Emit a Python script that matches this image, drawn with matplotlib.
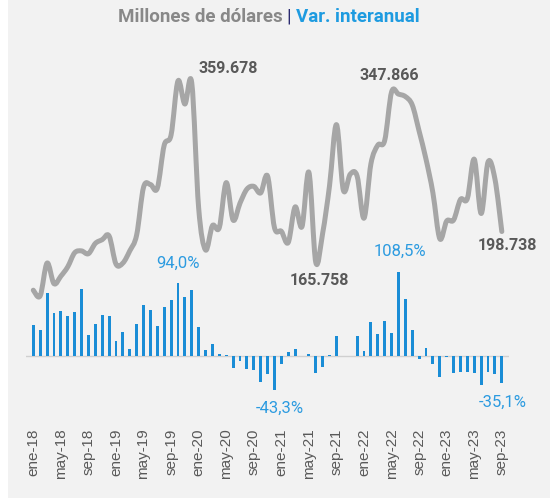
import matplotlib
matplotlib.use("Agg")
import matplotlib.pyplot as plt
from matplotlib.path import Path
from matplotlib.patches import PathPatch, Rectangle
import numpy as np

# Monthly series, ene-18 .. sep-23
millones_usd = [
    136, 130, 165, 143, 151, 161, 176, 178, 175, 186, 190, 194,
    164, 165, 178, 195, 246, 249, 245, 291, 302, 359.678, 335, 357.5,
    224, 179, 205, 203, 251, 211, 229, 244, 247, 240, 258, 203,
    199, 187, 225, 204, 262, 165.758, 197, 248, 313, 243, 260, 258,
    213, 271, 291, 296, 347.866, 345.6, 343, 334, 306, 276, 240, 191,
    210, 211, 233, 234, 276, 218, 273, 255, 198.738,
]
var_interanual = [
    39.5, 33.5, 80.7, 55.8, 58.4, 51.5, 56.2, 85.8, 27.5, 40.8, 53.2, 51.9,
    19.7, 31.3, 8.6, 41.2, 65.2, 59.6, 38.6, 62.6, 71.6, 94.0, 75.9, 84.5,
    37.3, 7.7, 15.4, 2.0, 1.5, -15.9, -6.0, -16.7, -18.0, -34.0, -23.6, -43.3,
    -10.5, 4.5, 8.6, 0.5, 2.6, -22.3, -14.6, 1.0, 26.2, 0.3, 0.5, 26.2,
    6.4, 43.3, 28.3, 45.0, 29.6, 108.5, 73.8, 33.5, -3.4, 10.7, -10.3, -26.6,
    -1.0, -22.3, -20.6, -21.0, -21.5, -36.9, -20.6, -23.2, -35.1,
]
tick_labels = [
    "ene-18", "may-18", "sep-18", "ene-19", "may-19", "sep-19",
    "ene-20", "may-20", "sep-20", "ene-21", "may-21", "sep-21",
    "ene-22", "may-22", "sep-22", "ene-23", "may-23", "sep-23",
]
# (series index, text, offset in pixels) for the annotated values
line_notes = [(21, "359.678", (50, 12)), (52, "347.866", (-2, 16)),
              (41, "165.758", (4, -18)), (68, "198.738", (6, -14))]
bar_notes = [(21, "94,0%", (0, 20)), (53, "108,5%", (1, 20)),
             (35, "-43,3%", (5, -19)), (68, "-35,1%", (1, -19))]

GRAY_LINE = "#a6a6a6"
BLUE_BAR = "#1a8dd6"
BLUE_TXT = "#2c9be0"
DARK = "#595959"
BG = "#f2f2f2"


def smooth_path(xs, ys):
    """Catmull-Rom curve through the points, as cubic Bezier segments."""
    pts = np.column_stack([xs, ys]).astype(float)
    n = len(pts)
    verts = [pts[0]]
    codes = [Path.MOVETO]
    for i in range(n - 1):
        p0 = pts[i - 1] if i > 0 else pts[i]
        p1, p2 = pts[i], pts[i + 1]
        p3 = pts[i + 2] if i + 2 < n else pts[i + 1]
        verts += [p1 + (p2 - p0) / 6.0, p2 - (p3 - p1) / 6.0, p2]
        codes += [Path.CURVE4] * 3
    return Path(verts, codes)


fig = plt.figure(figsize=(5.5, 4.98), dpi=100, facecolor=BG)
fig.patches.append(Rectangle((0, 0), 8 / 550, 1, transform=fig.transFigure,
                             facecolor="white", edgecolor="none", zorder=0))

W, H = 550.0, 498.0
left, right, top, bottom = 26.4, 508.7, 60.0, 420.0
ax = fig.add_axes([left / W, 1 - bottom / H, (right - left) / W, (bottom - top) / H])
ax2 = ax.twinx()

x = np.arange(len(millones_usd))

# year-over-year bars
ax.bar(x, var_interanual, width=0.42, color=BLUE_BAR, zorder=2)
ax.axhline(0, color="#d0d0d0", lw=1.0, zorder=1)
ax.set_xlim(-1, 69)
ax.set_ylim(-82.4, 380.9)

# value line
ax2.add_patch(PathPatch(smooth_path(x, millones_usd), facecolor="none",
                        edgecolor=GRAY_LINE, lw=3.6, capstyle="round",
                        joinstyle="round", zorder=3))
ax2.set_ylim(-2.74, 382.07)
ax2.set_xlim(-1, 69)

for a in (ax, ax2):
    a.set_facecolor("none")
    for s in a.spines.values():
        s.set_visible(False)
    a.set_yticks([])
ax2.set_zorder(ax.get_zorder() + 1)

ax.set_xticks(np.arange(0, 69, 4))
ax.set_xticklabels(tick_labels, rotation=90, fontsize=11,
                   family="Liberation Sans", color=DARK)
ax.tick_params(axis="x", length=0, pad=6)

for i, txt, (dx, dy) in line_notes:
    ax2.annotate(txt, (i, millones_usd[i]), xytext=(dx, dy),
                 textcoords="offset pixels", ha="center", va="center",
                 fontsize=11.5, fontweight="bold", family="Roboto",
                 color=DARK, annotation_clip=False)

for i, txt, (dx, dy) in bar_notes:
    ax.annotate(txt, (i, var_interanual[i]), xytext=(dx, dy),
                textcoords="offset pixels", ha="center", va="center",
                fontsize=12, family="Roboto", color=BLUE_TXT,
                annotation_clip=False)

# title in two colours around a separator
ty = 1 - 17 / H
fig.text(283 / W, ty, "Millones de dólares", ha="right", va="center",
         fontsize=13.5, fontweight="bold", family="Roboto", color="#888888")
fig.text(289 / W, ty, "|", ha="center", va="center",
         fontsize=13.5, family="Roboto", color="#2b2b70")
fig.text(296 / W, ty, "Var. interanual", ha="left", va="center",
         fontsize=13.5, fontweight="bold", family="Roboto", color="#1e9be0")

fig.savefig("out.png", dpi=100, facecolor=BG)
